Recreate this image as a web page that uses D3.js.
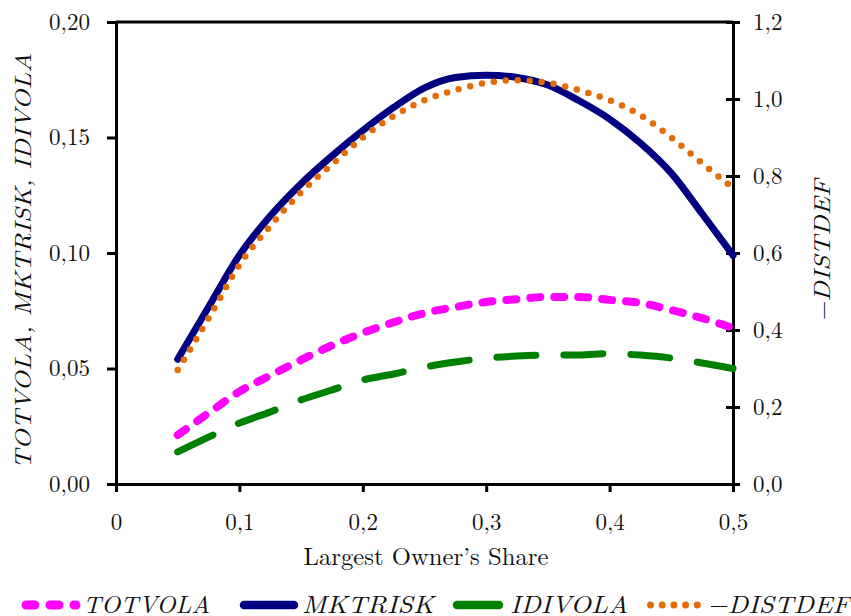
<!DOCTYPE html>
<html>
	<meta charset="utf-8" />
	<style>
		html,
		body,
		svg {
			padding: 0px;
			margin: 0px;
			background: #fff;
		}
	</style>
	<svg width="851" height="616"></svg>
	<script src="https://d3js.org/d3.v7.min.js"></script>
	<script>
		// largest owner's share (x) and the four series
		var share = [0.05, 0.075, 0.1, 0.125, 0.15, 0.175, 0.2, 0.225, 0.25, 0.275, 0.3, 0.325, 0.35, 0.375, 0.4, 0.425, 0.45, 0.475, 0.5];
		var totvola = [0.0212, 0.0307, 0.040, 0.047, 0.0537, 0.060, 0.0654, 0.070, 0.074, 0.0766, 0.0788, 0.080, 0.081, 0.081, 0.0797, 0.0784, 0.0753, 0.0718, 0.0675];
		var mktrisk = [0.054, 0.0766, 0.099, 0.116, 0.130, 0.142, 0.153, 0.163, 0.1715, 0.176, 0.177, 0.176, 0.1727, 0.166, 0.158, 0.1476, 0.1346, 0.117, 0.099];
		var idivola = [0.0139, 0.0203, 0.0264, 0.0312, 0.0364, 0.0407, 0.045, 0.0476, 0.0506, 0.0528, 0.0545, 0.0554, 0.0558, 0.0558, 0.0565, 0.0558, 0.0545, 0.0524, 0.050];
		var distdef = [0.296, 0.43, 0.569, 0.67, 0.758, 0.83, 0.90, 0.956, 0.997, 1.023, 1.042, 1.049, 1.042, 1.023, 0.997, 0.958, 0.90, 0.833, 0.769];

		var xTicks = [0, 0.1, 0.2, 0.3, 0.4, 0.5];
		var leftTicks = [0, 0.05, 0.1, 0.15, 0.2];
		var rightTicks = [0, 0.2, 0.4, 0.6, 0.8, 1.0, 1.2];

		var FONT = "'Latin Modern Roman', 'CMU Serif', 'Liberation Serif', serif";

		var svg = d3.select("svg").style("font-family", FONT);
		var loc = d3.formatLocale({ decimal: ",", thousands: ".", grouping: [3], currency: ["", ""] });
		var f2 = loc.format(".2f"),
			f1 = loc.format(".1f");

		var x = d3.scaleLinear().domain([0, 0.5]).range([116, 733]);
		var yL = d3.scaleLinear().domain([0, 0.2]).range([484, 22]);
		var yR = d3.scaleLinear().domain([0, 1.2]).range([484, 22]);

		// top border
		svg.append("line").attr("x1", x(0)).attr("x2", x(0.5)).attr("y1", yL(0.2)).attr("y2", yL(0.2)).attr("stroke", "#000").attr("stroke-width", 3);

		var gx = svg
			.append("g")
			.attr("class", "axis")
			.attr("transform", "translate(0," + yL(0) + ")")
			.call(
				d3
					.axisBottom(x)
					.tickValues(xTicks)
					.tickSize(8)
					.tickSizeOuter(0)
					.tickFormat(function (d) {
						return d === 0 ? "0" : f1(d);
					})
			);
		gx.selectAll(".tick text").attr("y", 46).attr("dy", 0);

		var gl = svg
			.append("g")
			.attr("class", "axis")
			.attr("transform", "translate(" + x(0) + ",0)")
			.call(d3.axisLeft(yL).tickValues(leftTicks).tickSize(9).tickSizeOuter(0).tickPadding(17).tickFormat(f2));

		var gr = svg
			.append("g")
			.attr("class", "axis")
			.attr("transform", "translate(" + x(0.5) + ",0)")
			.call(d3.axisRight(yR).tickValues(rightTicks).tickSize(7).tickSizeOuter(0).tickPadding(13).tickFormat(f1));
		gr.selectAll(".tick line").attr("x1", -7);

		svg.selectAll(".axis").attr("font-family", null).attr("font-size", null);
		svg.selectAll(".axis text").style("font-family", FONT).style("font-size", "23px").attr("fill", "#111");
		svg.selectAll(".axis path").attr("stroke", "#000").attr("stroke-width", 3);
		svg.selectAll(".axis .tick line").attr("stroke", "#000").attr("stroke-width", 3);

		function line(ys, y) {
			return d3
				.line()
				.x(function (d, i) {
					return x(share[i]);
				})
				.y(function (d) {
					return y(d);
				})
				.curve(d3.curveMonotoneX)(ys);
		}

		var series = [
			{ name: "TOTVOLA", vals: totvola, y: yL, color: "#ff00ff", w: 8, dash: "10,14" },
			{ name: "MKTRISK", vals: mktrisk, y: yL, color: "#000080", w: 7, dash: null },
			{ name: "IDIVOLA", vals: idivola, y: yL, color: "#008000", w: 7, dash: "39,28" },
			{ name: "\u2212DISTDEF", vals: distdef, y: yR, color: "#e36c09", w: 6.5, dash: "0,12" },
		];

		series.forEach(function (s) {
			svg.append("path")
				.attr("d", line(s.vals, s.y))
				.attr("fill", "none")
				.attr("stroke", s.color)
				.attr("stroke-width", s.w)
				.attr("stroke-linecap", "round")
				.attr("stroke-linejoin", "round")
				.attr("stroke-dasharray", s.dash);
		});

		// axis titles
		svg.append("text")
			.attr("transform", "translate(31,261) rotate(-90)")
			.attr("text-anchor", "middle")
			.style("font-style", "italic")
			.style("font-size", "23px")
			.attr("fill", "#111")
			.attr("textLength", 416)
			.attr("lengthAdjust", "spacingAndGlyphs")
			.text("TOTVOLA, MKTRISK, IDIVOLA");

		svg.append("text")
			.attr("transform", "translate(830,251) rotate(-90)")
			.attr("text-anchor", "middle")
			.style("font-style", "italic")
			.style("font-size", "23px")
			.attr("fill", "#111")
			.attr("textLength", 143)
			.attr("lengthAdjust", "spacingAndGlyphs")
			.text("\u2212DISTDEF");

		svg.append("text")
			.attr("x", 426)
			.attr("y", 565)
			.attr("text-anchor", "middle")
			.style("font-size", "24px")
			.attr("fill", "#111")
			.attr("textLength", 245)
			.attr("lengthAdjust", "spacingAndGlyphs")
			.text("Largest Owner\u2019s Share");

		// legend: swatch extents and text extents taken from the figure's layout
		var legend = [
			{ sw: [26, 76], dash: "9,15", w: 9, tx: [83, 127] },
			{ sw: [244, 294], dash: null, w: 8.5, tx: [302, 132] },
			{ sw: [457, 499], dash: null, w: 8.5, tx: [510, 118] },
			{ sw: [650.5, 697.5], dash: "0,11.7", w: 7, tx: [707, 143] },
		];
		series.forEach(function (s, i) {
			var l = legend[i];
			svg.append("line")
				.attr("x1", l.sw[0])
				.attr("x2", l.sw[1])
				.attr("y1", 605)
				.attr("y2", 605)
				.attr("stroke", s.color)
				.attr("stroke-width", l.w)
				.attr("stroke-linecap", "round")
				.attr("stroke-dasharray", l.dash);
			svg.append("text")
				.attr("x", l.tx[0])
				.attr("y", 613)
				.style("font-style", "italic")
				.style("font-size", "24px")
				.attr("fill", "#111")
				.attr("textLength", l.tx[1])
				.attr("lengthAdjust", "spacingAndGlyphs")
				.text(s.name);
		});
	</script>
</html>
